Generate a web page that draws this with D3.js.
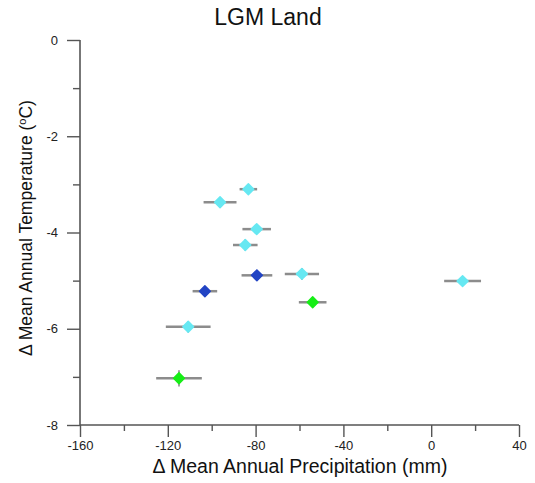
<!DOCTYPE html>
<html>
<head>
<meta charset="utf-8">
<script src="https://cdn.jsdelivr.net/npm/d3@7"></script>
<style>
  html, body { margin: 0; padding: 0; background: #fff; }
  svg { display: block; font-family: "Liberation Sans", Arial, sans-serif; }
</style>
</head>
<body>
<svg id="chart" width="535" height="483"></svg>
<script>
// LGM land anomalies: precipitation (mm) vs temperature (°C), one point per model
const precip    = [-83.3, -96.2, -79.5, -84.7, -79.4, -58.9, 14.3, -103.1, -54.0, -110.7, -114.9];
const precipErr = [4.0, 7.5, 6.5, 5.6, 7.0, 7.8, 8.4, 5.6, 6.3, 10.2, 10.4];
const temp      = [-3.10, -3.37, -3.93, -4.26, -4.89, -4.86, -5.01, -5.22, -5.45, -5.96, -7.03];
const tempErr   = [0.05, 0.05, 0.08, 0.12, 0.08, 0.12, 0.10, 0.08, 0.08, 0.12, 0.17];
const group     = ["a", "a", "a", "a", "b", "a", "a", "b", "c", "a", "c"];

const groupColor = { a: "#66e8f2", b: "#2244c4", c: "#16ee16" };

const xTicks = [-160, -120, -80, -40, 0, 40];
const xMinor = [-140, -100, -60, -20, 20];
const yTicks = [0, -2, -4, -6, -8];
const yMinor = [-1, -3, -5, -7];

const svg = d3.select("#chart");
const plotLeft = 80, plotRight = 519, plotTop = 40, plotBottom = 425;

const x = d3.scaleLinear().domain([-160, 40]).range([plotLeft, plotRight]);
const y = d3.scaleLinear().domain([0, -8]).range([plotTop, plotBottom]);

const axisColor = "#555";
const plainNum = d => String(d);   // hyphen-minus, as printed on the axes

// Title
svg.append("text")
  .attr("x", 268).attr("y", 25)
  .attr("text-anchor", "middle")
  .attr("font-size", 23)
  .attr("fill", "#111")
  .text("LGM Land");

// Y axis
const yAxis = svg.append("g").attr("transform", `translate(${plotLeft},0)`);
yAxis.call(d3.axisLeft(y).tickValues(yTicks).tickSize(13).tickPadding(9).tickFormat(plainNum));
const yAxisMinor = svg.append("g").attr("transform", `translate(${plotLeft},0)`);
yAxisMinor.call(d3.axisLeft(y).tickValues(yMinor).tickSize(7).tickFormat(""));
yAxisMinor.select(".domain").remove();

// X axis
const xAxis = svg.append("g").attr("transform", `translate(0,${plotBottom})`);
xAxis.call(d3.axisBottom(x).tickValues(xTicks).tickSize(12).tickPadding(4).tickFormat(plainNum));
const xAxisMinor = svg.append("g").attr("transform", `translate(0,${plotBottom})`);
xAxisMinor.call(d3.axisBottom(x).tickValues(xMinor).tickSize(6).tickFormat(""));
xAxisMinor.select(".domain").remove();

// Plain axis lines without end caps
yAxis.select(".domain").attr("stroke", axisColor).attr("stroke-width", 1.6)
  .attr("d", `M0,${plotTop}V${plotBottom}`);
xAxis.select(".domain").attr("stroke", axisColor).attr("stroke-width", 1.6)
  .attr("d", `M${plotLeft},0H${plotRight}`);

svg.selectAll(".tick line").attr("stroke", axisColor).attr("stroke-width", 1.4);
svg.selectAll(".tick text").attr("font-size", 13).attr("fill", "#222")
  .attr("font-family", "Liberation Sans, Arial, sans-serif");

// Axis titles
svg.append("text")
  .attr("x", 300).attr("y", 473)
  .attr("text-anchor", "middle")
  .attr("font-size", 19.5)
  .attr("fill", "#111")
  .text("Δ Mean Annual Precipitation (mm)");

const yTitle = svg.append("text")
  .attr("transform", "translate(32,228) rotate(-90)")
  .attr("text-anchor", "middle")
  .attr("font-size", 17.5)
  .attr("fill", "#111");
yTitle.append("tspan").text("Δ Mean Annual Temperature (");
yTitle.append("tspan").attr("font-size", 11).attr("dy", -6).text("o");
yTitle.append("tspan").attr("dy", 6).text("C)");

// Data points with error bars
const data = precip.map((p, i) => ({
  p, pe: precipErr[i], t: temp[i], te: tempErr[i], g: group[i]
}));

const pts = svg.append("g");
const errColor = "#8c8c8c";

pts.selectAll("line.xerr").data(data).join("line")
  .attr("class", "xerr")
  .attr("x1", d => x(d.p - d.pe)).attr("x2", d => x(d.p + d.pe))
  .attr("y1", d => y(d.t)).attr("y2", d => y(d.t))
  .attr("stroke", errColor).attr("stroke-width", 2.5);

pts.selectAll("line.yerr").data(data).join("line")
  .attr("class", "yerr")
  .attr("x1", d => x(d.p)).attr("x2", d => x(d.p))
  .attr("y1", d => y(d.t - d.te)).attr("y2", d => y(d.t + d.te))
  .attr("stroke", "#666").attr("stroke-width", 1.2);

pts.selectAll("path.mark").data(data).join("path")
  .attr("class", "mark")
  .attr("transform", d => `translate(${x(d.p)},${y(d.t)})`)
  .attr("d", d3.symbol().type(d3.symbolDiamond2).size(75))
  .attr("fill", d => groupColor[d.g])
  .attr("stroke", d => groupColor[d.g])
  .attr("stroke-width", 1.5)
  .attr("stroke-linejoin", "round");
</script>
</body>
</html>
